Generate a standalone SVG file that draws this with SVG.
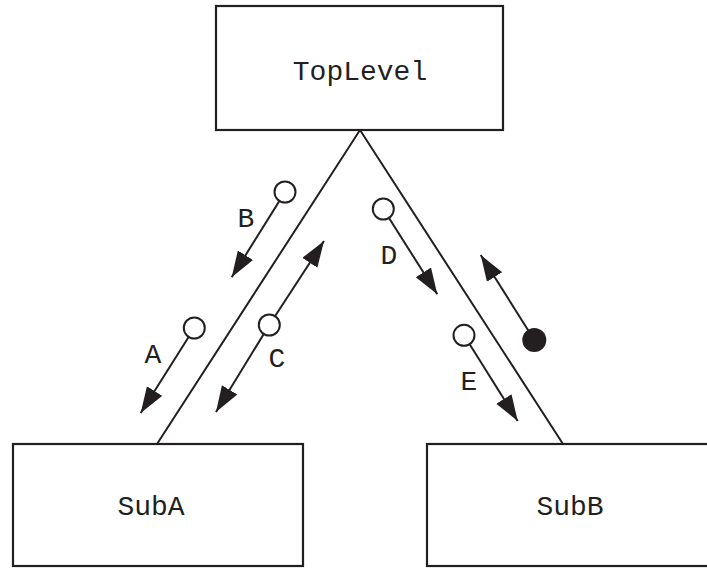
<svg xmlns="http://www.w3.org/2000/svg" width="707" height="568" viewBox="0 0 707 568">
<style>
.box{fill:#fff;stroke:#231f20;stroke-width:2.2}
.ln{fill:none;stroke:#231f20;stroke-width:2}
.arr{fill:none;stroke:#231f20;stroke-width:2;marker-end:url(#ah)}
.oc{fill:#fff;stroke:#231f20;stroke-width:2}
.fc{fill:#231f20}
text{font-family:"Liberation Mono","Courier New",monospace;font-size:28px;fill:#231f20;text-anchor:middle}
</style>
<defs>
<marker id="ah" markerUnits="userSpaceOnUse" markerWidth="28" markerHeight="20" refX="26" refY="9" orient="auto">
<path d="M0,0 L26,9 L0,18 Z" fill="#231f20"/>
</marker>
</defs>
<rect width="707" height="568" fill="#fff"/>
<g id="connectors">
<path class="ln" d="M157,444 L360,130 L563,444"/>
<path class="arr" d="M285,192 L231.7,277.3"/>
<path class="arr" d="M194.3,328 L140.7,413"/>
<path class="arr" d="M269.3,325 L324,241"/>
<path class="arr" d="M269.3,325 L216,412"/>
<path class="arr" d="M383.3,209 L437.3,294.3"/>
<path class="arr" d="M464,335.3 L517.7,421"/>
<path class="arr" d="M534.3,340 L480.7,255"/>
<circle class="oc" cx="285" cy="192" r="10.5"/>
<circle class="oc" cx="194.3" cy="328" r="10.5"/>
<circle class="oc" cx="269.3" cy="325" r="10.5"/>
<circle class="oc" cx="383.3" cy="209" r="10.5"/>
<circle class="oc" cx="464" cy="335.3" r="10.5"/>
<circle class="fc" cx="534.3" cy="340" r="12"/>
<text x="246" y="227">B</text>
<text x="153" y="363">A</text>
<text x="277" y="367">C</text>
<text x="389" y="264">D</text>
<text x="469" y="390">E</text>
</g>
<g id="TopLevel">
<rect class="box" x="216" y="6" width="287" height="124"/>
<text x="360" y="80">TopLevel</text>
</g>
<g id="SubA">
<rect class="box" x="13" y="444" width="290" height="122"/>
<text x="151" y="515">SubA</text>
</g>
<g id="SubB">
<rect class="box" x="427" y="444" width="290" height="122"/>
<text x="570" y="515">SubB</text>
</g>
</svg>
